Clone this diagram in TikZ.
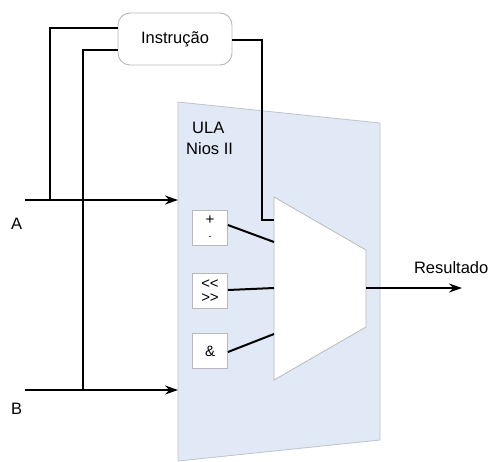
\documentclass[tikz,border=0pt]{standalone}
\usepackage{fontspec}
\setmainfont{Liberation Sans}
\usetikzlibrary{arrows.meta}
\definecolor{panelfill}{RGB}{224,233,245}
\definecolor{panelline}{RGB}{190,196,204}
\definecolor{boxline}{RGB}{185,185,185}
\tikzset{
  wire/.style={line width=2pt, black},
  arrowwire/.style={wire, -{Stealth[length=13pt,width=9pt]}},
  txt/.style={font=\fontsize{16.5}{19}\selectfont, inner sep=0pt},
  opbox/.style={draw=boxline, fill=white, line width=0.8pt, minimum width=35pt, minimum height=35pt, inner sep=0pt, align=center, font=\fontsize{15}{17}\selectfont},
  instrbox/.style={draw=boxline, fill=white, line width=0.9pt, rounded corners=12pt, minimum width=114pt, minimum height=52pt, font=\fontsize{16.5}{19}\selectfont},
}
\begin{document}
\begin{tikzpicture}[x=1pt, y=-1pt]
\useasboundingbox (0,0) rectangle (489,461);
\fill[white] (0,0) rectangle (489,461);
% panel
\filldraw[fill=panelfill, draw=panelline, line width=0.8pt] (178,102) -- (380,123) -- (380,440) -- (178,461) -- cycle;
\node[txt, anchor=north west, align=left] (ula) at (186,122) {\hspace*{6pt}ULA\\[2pt]Nios II};
% instruction
\node[instrbox] (instr) at (175,39) {Instrução};
% coordinates
\coordinate (Ain) at (25,200);
\coordinate (Aend) at (178,200);
\coordinate (Bin) at (25,390);
\coordinate (Bend) at (178,390);
\coordinate (jA) at (50,200);
\coordinate (jB) at (83,390);
% mux
\coordinate (m1) at (274,197);
\coordinate (m2) at (366,250);
\coordinate (m3) at (366,327);
\coordinate (m4) at (274,380);
\filldraw[fill=white, draw=boxline, line width=0.8pt] (m1) -- (m2) -- (m3) -- (m4) -- cycle;
\coordinate (sel) at (274,220);
\coordinate (in1) at (274,242);
\coordinate (in2) at (274,288);
\coordinate (in3) at (274,334);
\coordinate (mout) at (366,288);
\coordinate (rend) at (462,288);
% op boxes
\node[opbox] (add) at (210,228) {+\\[-2pt]{\fontsize{9}{9}\selectfont -}};
\node[opbox] (shf) at (210,291) {{<}\kern-0.5pt{<}\\[-3pt]{>}\kern-0.5pt{>}};
\node[opbox] (and) at (210,351) {\&};
% wires
\draw[arrowwire] (Ain) -- (Aend);
\draw[arrowwire] (Bin) -- (Bend);
\draw[wire] (instr.west |- 0,28) -| (jA);
\draw[wire] (instr.west |- 0,50) -| (jB);
\draw[wire] (instr.east |- 0,40) -| (262,220) -- (sel);
\draw[wire] (add.east |- 0,225) -- (in1);
\draw[wire] (shf.east |- 0,290) -- (in2);
\draw[wire] (and.east |- 0,352) -- (in3);
\draw[arrowwire] (mout) -- (rend);
% labels
\node[txt, anchor=north west] (la) at (11,218) {A};
\node[txt, anchor=north west] (lb) at (11,403) {B};
\node[txt, anchor=east] (res) at (488.5,268) {Resultado};
\end{tikzpicture}
\end{document}
